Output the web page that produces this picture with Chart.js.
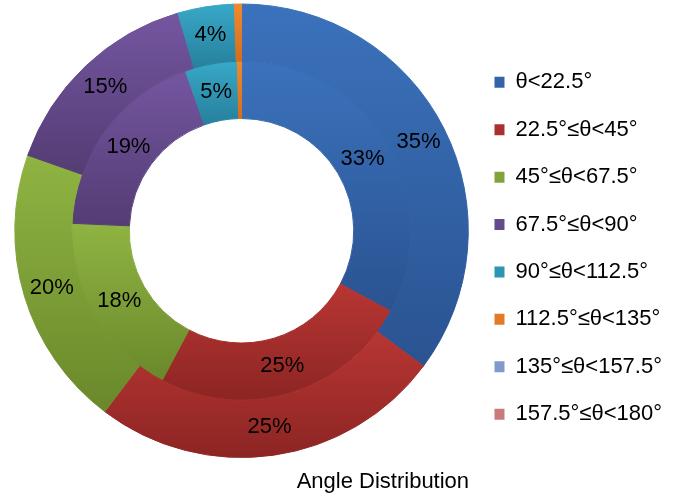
<!DOCTYPE html>
<html>
<head>
<meta charset="utf-8">
<script src="https://cdn.jsdelivr.net/npm/chart.js@4"></script>
<style>
  html, body { margin: 0; padding: 0; background: #fff; }
</style>
</head>
<body>
<canvas id="chart" width="676" height="497"></canvas>
<script>
// Angle distribution, two rings: outer and inner sample sets.
const categories = [
  'θ<22.5°',
  '22.5°≤θ<45°',
  '45°≤θ<67.5°',
  '67.5°≤θ<90°',
  '90°≤θ<112.5°',
  '112.5°≤θ<135°',
  '135°≤θ<157.5°',
  '157.5°≤θ<180°',
];
const outerValues = [35, 25, 20, 15, 4, 0.5, 0, 0];
const innerValues = [33, 25, 18, 19, 5, 0.4, 0, 0];
const chartTitle = 'Angle Distribution';

// slice shading: top of each slice lighter, bottom darker
const lightColors = ['#3b72bc', '#b83633', '#8fb442', '#7456a0', '#38a8c7', '#f08a2c', '#8ca6d6', '#d98c8c'];
const darkColors  = ['#2a5391', '#8c2523', '#6a882b', '#543c74', '#26809d', '#d46e1c', '#6f8cc2', '#c06a6a'];
const legendColors = ['#3364a8', '#a8302e', '#82a33c', '#654a8c', '#2e94b3', '#e47a26', '#7f9acb', '#c97b7c'];

const FONT = '"Liberation Sans", Arial, sans-serif';

// Vertical gradient fitted to the slice's own bounding box.
function sliceGradient(context) {
  const chart = context.chart;
  const i = context.dataIndex;
  const ctrl = chart.getDatasetMeta(context.datasetIndex).controller;
  const area = chart.chartArea;
  if (!area || !ctrl.outerRadius) return legendColors[i];

  const data = context.dataset.data;
  const total = data.reduce((a, b) => a + b, 0);
  let before = 0;
  for (let k = 0; k < i; k += 1) before += data[k];
  const a0 = -Math.PI / 2 + (2 * Math.PI * before) / total;
  const a1 = a0 + (2 * Math.PI * data[i]) / total;
  const cy = (area.top + area.bottom) / 2;

  let top = Infinity;
  let bottom = -Infinity;
  for (const a of [a0, a1]) {
    for (const r of [ctrl.innerRadius, ctrl.outerRadius]) {
      const y = cy + r * Math.sin(a);
      top = Math.min(top, y);
      bottom = Math.max(bottom, y);
    }
  }
  if (a0 <= Math.PI / 2 && a1 >= Math.PI / 2) bottom = cy + ctrl.outerRadius;
  if (bottom - top < 1) bottom = top + 1;

  const g = chart.ctx.createLinearGradient(0, top, 0, bottom);
  g.addColorStop(0, lightColors[i]);
  g.addColorStop(1, darkColors[i]);
  return g;
}

// Percent labels at the middle of each arc.
const sliceLabels = {
  id: 'sliceLabels',
  afterDatasetsDraw(chart) {
    const ctx = chart.ctx;
    ctx.save();
    ctx.font = '22px ' + FONT;
    ctx.fillStyle = '#000';
    ctx.textAlign = 'center';
    ctx.textBaseline = 'middle';
    chart.data.datasets.forEach((ds, d) => {
      const meta = chart.getDatasetMeta(d);
      const total = ds.data.reduce((a, b) => a + b, 0);
      meta.data.forEach((arc, i) => {
        if (ds.data[i] < 1) return;
        const { x, y } = arc.getCenterPoint();
        ctx.fillText(Math.round((ds.data[i] / total) * 100) + '%', x, y);
      });
    });
    ctx.restore();
  },
};

new Chart(document.getElementById('chart'), {
  type: 'doughnut',
  data: {
    labels: categories,
    datasets: [
      { label: 'outer', data: outerValues, backgroundColor: sliceGradient, borderColor: sliceGradient, borderWidth: 1 },
      { label: 'inner', data: innerValues, backgroundColor: sliceGradient, borderColor: sliceGradient, borderWidth: 1 },
    ],
  },
  options: {
    responsive: false,
    animation: false,
    events: [],
    cutout: '49.5%',
    layout: { padding: { top: 3.5, bottom: 4, left: 14, right: 4 } },
    plugins: {
      tooltip: { enabled: false },
      title: {
        display: true,
        text: chartTitle,
        position: 'bottom',
        fullSize: false,
        align: 'end',
        color: '#000',
        font: { family: FONT, size: 22, weight: 'normal', lineHeight: 1 },
        padding: { top: 13, bottom: 0 },
      },
      legend: {
        position: 'right',
        labels: {
          boxWidth: 10,
          boxHeight: 11,
          padding: 25.4,
          color: '#000',
          font: { family: FONT, size: 22 },
          generateLabels: () => categories.map((text, i) => ({
            text,
            fillStyle: legendColors[i],
            strokeStyle: legendColors[i],
            lineWidth: 0,
            hidden: false,
            index: i,
          })),
        },
      },
    },
  },
  plugins: [sliceLabels],
});
</script>
</body>
</html>
